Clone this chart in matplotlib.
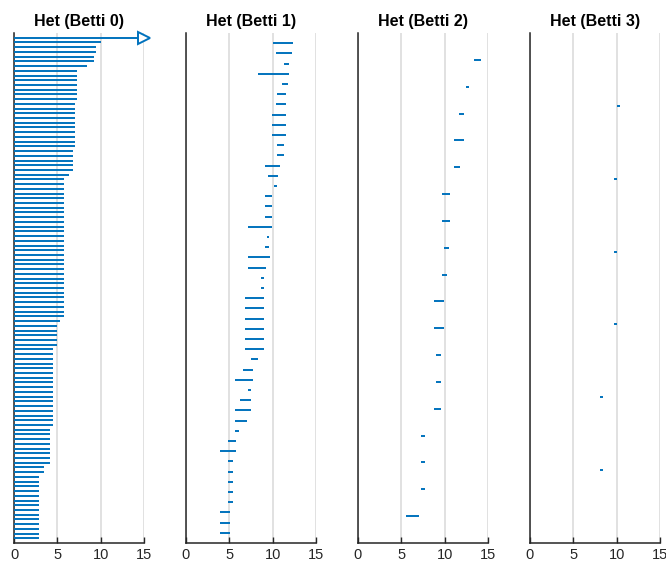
import matplotlib
matplotlib.use("Agg")
import matplotlib.pyplot as plt
import numpy as np

titles = ["Het (Betti 0)", "Het (Betti 1)", "Het (Betti 2)", "Het (Betti 3)"]
x_ticks = [0, 5, 10, 15]
x_max = 15

# Betti 0: all bars born at 0; first bar never dies (inf)
betti0_death = [np.inf, 10.0, 9.45, 9.45, 9.2, 9.2, 8.45,
                7.25, 7.25, 7.25, 7.25, 7.25, 7.25, 7.25,
                7.0, 7.0, 7.0, 7.0, 7.0, 7.0, 7.0, 7.0, 7.0, 7.0,
                6.75, 6.75, 6.75, 6.75, 6.75, 6.35,
                5.75, 5.75, 5.75, 5.75, 5.75, 5.75, 5.75, 5.75, 5.75, 5.75,
                5.75, 5.75, 5.75, 5.75, 5.75, 5.75, 5.75, 5.75, 5.75, 5.75,
                5.75, 5.75, 5.75, 5.75, 5.75, 5.75, 5.75, 5.75, 5.75, 5.75,
                5.35, 5.0, 5.0, 5.0, 5.0, 5.0,
                4.45, 4.45, 4.45, 4.45, 4.45, 4.45, 4.45, 4.45, 4.45,
                4.45, 4.45, 4.45, 4.45, 4.45, 4.45, 4.45, 4.45,
                4.1, 4.1, 4.1, 4.1, 4.1, 4.1, 4.1, 4.1,
                3.5, 3.5,
                2.85, 2.85, 2.85, 2.85, 2.85, 2.85, 2.85,
                2.85, 2.85, 2.85, 2.85, 2.85, 2.85, 2.85]
betti0_birth = [0.0] * len(betti0_death)

betti1_birth = [10.05, 10.35, 11.3, 8.3, 11.1, 10.45, 10.35, 9.95, 9.95, 9.95,
                10.45, 10.45, 9.1, 9.45, 10.1, 9.1, 9.1, 9.1, 7.1, 9.3,
                9.1, 7.1, 7.1, 8.6, 8.6, 6.8, 6.8, 6.8, 6.8, 6.8,
                6.8, 7.55, 6.55, 5.6, 7.1, 6.2, 5.6, 5.6, 5.6, 4.85,
                3.95, 4.8, 4.8, 4.8, 4.8, 4.8, 3.95, 3.95, 3.95]
betti1_death = [12.4, 12.25, 11.9, 11.9, 11.8, 11.55, 11.55, 11.55, 11.55, 11.55,
                11.3, 11.3, 10.9, 10.65, 10.5, 9.9, 9.9, 9.9, 9.9, 9.6,
                9.6, 9.65, 9.25, 9.0, 9.0, 9.05, 9.05, 9.05, 9.05, 9.05,
                9.05, 8.25, 7.75, 7.75, 7.5, 7.5, 7.5, 7.0, 6.15, 5.75,
                5.75, 5.4, 5.4, 5.4, 5.4, 5.4, 5.05, 5.05, 5.05]

betti2_birth = [13.4, 12.5, 11.6, 11.1, 11.1, 9.65, 9.65, 9.9, 9.65,
                8.8, 8.8, 9.05, 9.05, 8.8, 7.3, 7.3, 7.3, 5.55]
betti2_death = [14.2, 12.8, 12.2, 12.2, 11.8, 10.6, 10.6, 10.5, 10.25,
                9.9, 9.9, 9.6, 9.6, 9.6, 7.75, 7.75, 7.75, 7.0]

betti3_birth = [10.05, 9.7, 9.7, 9.7, 8.05, 8.05]
betti3_death = [10.4, 10.05, 10.05, 10.05, 8.45, 8.45]

births = [betti0_birth, betti1_birth, betti2_birth, betti3_birth]
deaths = [betti0_death, betti1_death, betti2_death, betti3_death]

blue = "#0072BD"
axc = "#262626"

fig = plt.figure(figsize=(6.66, 5.61), dpi=100)
lefts = [14, 186, 358, 530]
for k in range(4):
    ax = fig.add_axes([lefts[k] / 666, 18 / 561, 130 / 666, 510 / 561])
    b = births[k]
    d = deaths[k]
    n = len(b)
    for i in range(n):
        y = i + 1
        if np.isinf(d[i]):
            ax.plot([b[i], x_max], [y, y], color=blue, lw=1.4,
                    solid_capstyle="butt", clip_on=False, zorder=3)
            ax.plot([x_max], [y], marker=">", markersize=8, markerfacecolor="white",
                    markeredgecolor=blue, markeredgewidth=1.4, clip_on=False, zorder=4)
        else:
            ax.plot([b[i], d[i]], [y, y], color=blue, lw=1.4,
                    solid_capstyle="butt", zorder=3)
    ax.set_xlim(0, x_max)
    ax.set_ylim(n + 1, 0)
    ax.set_xticks(x_ticks)
    ax.set_yticks([])
    ax.grid(axis="x", color="#dcdcdc", lw=1.2)
    ax.set_axisbelow(True)
    for s in ["top", "right"]:
        ax.spines[s].set_visible(False)
    for s in ["left", "bottom"]:
        ax.spines[s].set_color(axc)
        ax.spines[s].set_linewidth(1.1)
    ax.tick_params(axis="x", direction="in", length=4, width=1.0, color=axc,
                   labelsize=10.5, labelcolor=axc, pad=3.5)
    for lab in ax.get_xticklabels():
        lab.set_family("Liberation Sans")
    ax.set_title(titles[k], fontsize=11.5, fontweight="bold", family="Liberation Sans",
                 color="black", pad=5)

fig.savefig("out.png", dpi=100)
